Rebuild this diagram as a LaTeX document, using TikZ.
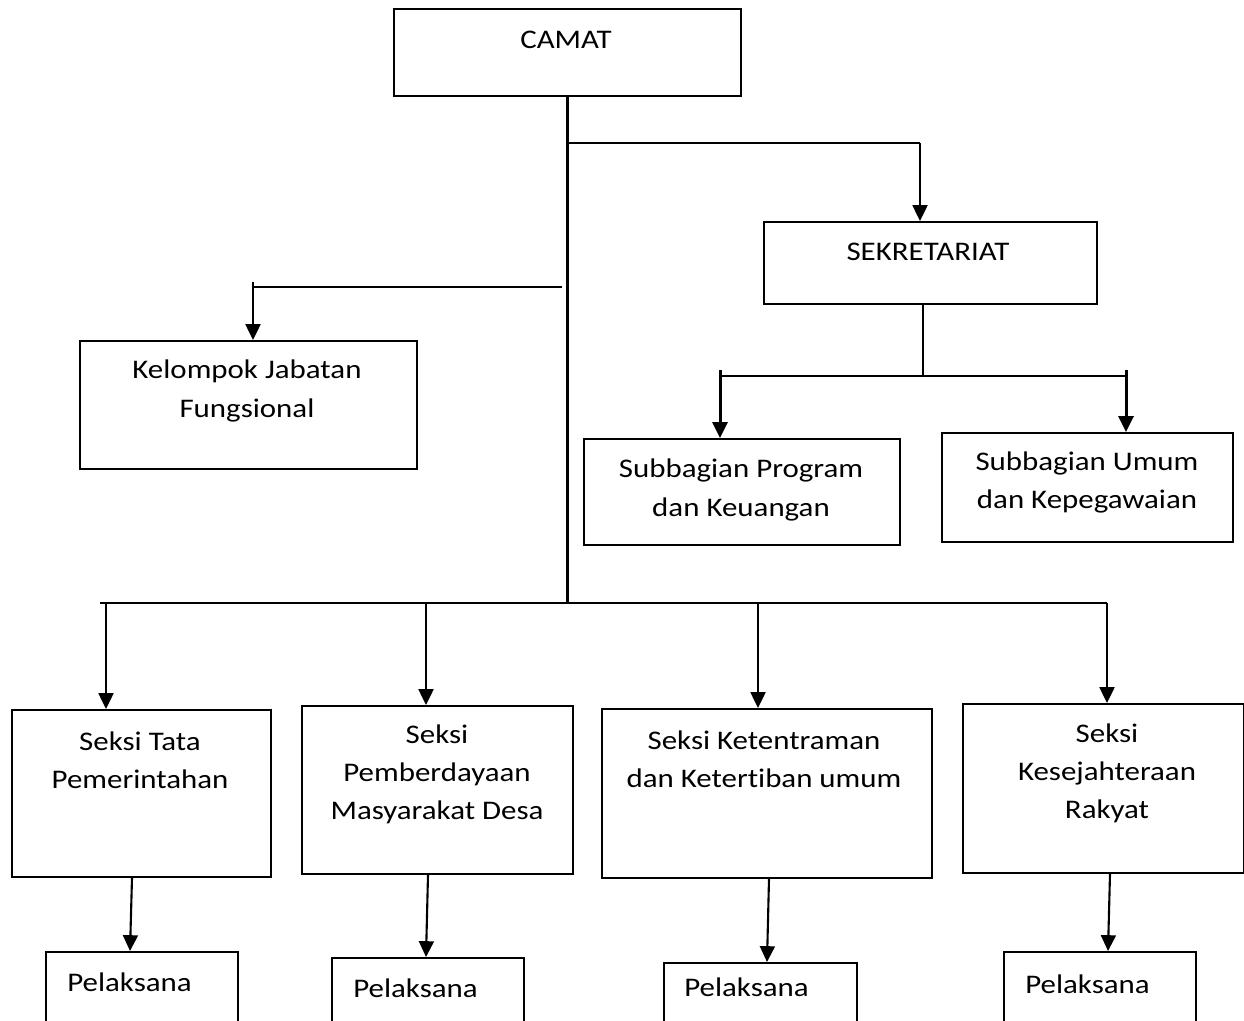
\documentclass[tikz,border=0pt]{standalone}
\usepackage{fontspec}
\setmainfont{Carlito}[FakeStretch=1.15, Ligatures=NoCommon]
\usetikzlibrary{arrows.meta}
\tikzset{kotak/.style={draw, line width=1.1pt, rectangle, anchor=north west, inner sep=0pt},
  teks/.style={align=center, font=\fontsize{15.3}{21.8}\selectfont},
  garis/.style={line width=1.2pt},
  panah/.style={line width=1.2pt, -{Triangle[width=8.5pt,length=9pt]}}}
\newcommand{\kotak}[5]{\node[kotak, minimum width=#4cm, minimum height=#5cm] (#1) at (#2,#3) {};}
\newcommand{\teks}[4]{\node[teks] (#1) at (#2,#3) {#4};}
\newcommand{\garis}[2]{\draw[garis] (#1) -- (#2);}
\newcommand{\panah}[2]{\draw[panah] (#1) -- (#2);}
\newcommand{\panahTebal}[2]{\draw[panah, line width=1.7pt] (#1) -- (#2);}

\begin{document}
\begin{tikzpicture}
    \useasboundingbox (0,0) rectangle (24.88,20.4);
    \kotak{camat}{7.86}{20.24}{6.94}{1.74} \teks{camatT}{11.32}{19.6}{CAMAT}
    \kotak{sekr}{15.26}{15.98}{6.66}{1.64} \teks{sekrT}{18.56}{15.36}{SEKRETARIAT}
    \kotak{kjf}{1.58}{13.6}{6.74}{2.56} \teks{kjfT}{4.94}{12.58}{Kelompok Jabatan\\Fungsional}
    \kotak{sbp}{11.66}{11.64}{6.32}{2.12} \teks{sbpT}{14.82}{10.6}{Subbagian Program\\dan Keuangan}
    \kotak{sbu}{18.82}{11.76}{5.82}{2.18} \teks{sbuT}{21.74}{10.75}{Subbagian Umum\\dan Kepegawaian}

    \kotak{s1}{0.22}{6.22}{5.18}{3.34} \teks{s1T}{2.8}{5.2}{Seksi Tata\\Pemerintahan}
    \kotak{s2}{6.02}{6.30}{5.42}{3.36} \teks{s2T}{8.74}{4.91}{Seksi\\Pemberdayaan\\Masyarakat Desa}
    \kotak{s3}{12.02}{6.24}{6.60}{3.38} \teks{s3T}{15.28}{5.22}{Seksi Ketentraman\\dan Ketertiban umum}
    \kotak{s4}{19.24}{6.34}{5.62}{3.38} \teks{s4T}{22.14}{4.93}{Seksi\\Kesejahteraan\\Rakyat}

    \kotak{p1}{0.90}{1.38}{3.84}{1.9} \teks{p1T}{2.59}{0.76}{Pelaksana}
    \kotak{p2}{6.62}{1.26}{3.84}{1.9} \teks{p2T}{8.31}{0.64}{Pelaksana}
    \kotak{p3}{13.26}{1.16}{3.86}{1.9} \teks{p3T}{14.93}{0.66}{Pelaksana}
    \kotak{p4}{20.06}{1.38}{3.84}{1.9} \teks{p4T}{21.75}{0.72}{Pelaksana}

    \coordinate (cSekr) at (18.4,17.54); \coordinate (cKjf) at (5.06,14.66);
    \coordinate (cKjfKanan) at (11.24,14.66); \coordinate (cSub) at (18.46,12.88);
    \coordinate (subKiri) at (14.4,12.88); \coordinate (subKanan) at (22.52,12.88);
    \coordinate (busKiri) at (2.0,8.34); \coordinate (busKanan) at (22.14,8.34);

    \garis{camat.south}{camat.south |- busKiri}
    \garis{camat.south |- cSekr}{cSekr} \panah{cSekr}{cSekr |- sekr.north}
    \garis{cKjfKanan}{cKjf} \panah{5.06,14.76}{cKjf |- kjf.north}
    \garis{cSub |- sekr.south}{cSub} \garis{subKiri}{subKanan}
    \panahTebal{14.4,13.0}{subKiri |- sbp.north} \panahTebal{22.52,13.0}{subKanan |- sbu.north}
    \garis{busKiri}{busKanan}
    \foreach \x/\n in {2.12/s1, 8.52/s2, 15.16/s3, 22.14/s4} {\panah{\x,8.34}{\x,0 |- \n.north}}
    \foreach \a/\b/\n in {2.64/2.60/1, 8.56/8.52/2, 15.38/15.34/3, 22.2/22.16/4}
        {\panah{\a,0 |- s\n.south}{\b,0 |- p\n.north}}
\end{tikzpicture}
\end{document}
